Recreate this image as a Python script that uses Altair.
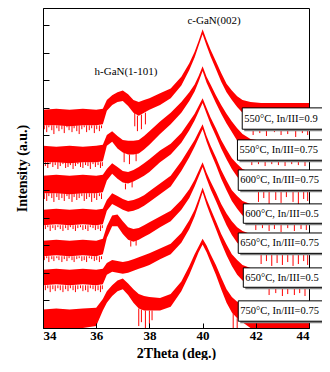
import altair as alt
import pandas as pd

# ---------------- data ----------------
two_theta = [34.0, 34.5, 35.0, 35.5, 36.0, 36.25, 36.4, 36.6, 36.8, 37.0, 37.2, 37.4,
             37.6, 37.8, 38.0, 38.4, 38.8, 39.2, 39.5, 39.7, 39.85, 40.0, 40.15, 40.3,
             40.5, 40.7, 40.9, 41.1, 41.3, 41.5, 41.8, 42.2, 42.6, 43.0, 43.5, 44.0]

samples = ["550°C, In/III=0.9", "550°C, In/III=0.75", "600°C, In/III=0.75",
           "600°C, In/III=0.5", "650°C, In/III=0.75", "650°C, In/III=0.5",
           "750°C, In/III=0.75"]

# upper / lower edge of each noisy trace (a.u., offset traces)
upper_550_09 = [225, 226, 225, 226, 225, 226, 235, 240, 243, 245, 241, 235, 233, 235, 237, 242, 247, 259,
                273, 285, 296, 308, 297, 287, 275, 263, 252, 245, 239, 235, 233, 232, 232, 232, 232, 232]
lower_550_09 = [209, 209, 208, 209, 209, 210, 224, 230, 233, 234, 229, 222, 219, 222, 225, 230, 237, 250,
                266, 279, 291, 303, 291, 280, 267, 254, 243, 235, 228, 222, 216, 213, 212, 212, 212, 212]
upper_550_075 = [188, 187, 188, 187, 188, 189, 199, 203, 198, 194, 193, 193, 194, 198, 203, 213, 222, 233,
                 243, 251, 260, 270, 259, 251, 240, 230, 221, 213, 206, 200, 195, 193, 192, 192, 192, 192]
lower_550_075 = [171, 171, 170, 171, 171, 172, 188, 192, 185, 181, 179, 179, 180, 184, 189, 200, 210, 222,
                 234, 244, 254, 265, 253, 244, 232, 221, 211, 202, 193, 185, 179, 176, 175, 175, 175, 175]
upper_600_075 = [157, 158, 157, 158, 157, 158, 164, 170, 166, 162, 161, 163, 166, 170, 174, 183, 190, 201,
                 213, 221, 229, 237, 227, 217, 206, 194, 184, 175, 169, 164, 161, 160, 160, 160, 160, 160]
lower_600_075 = [139, 139, 138, 139, 139, 140, 152, 159, 154, 150, 149, 151, 154, 157, 161, 171, 179, 191,
                 204, 214, 223, 232, 221, 210, 198, 185, 174, 164, 156, 149, 144, 142, 142, 142, 142, 142]
upper_600_05 = [122, 123, 122, 123, 122, 123, 132, 139, 136, 133, 131, 132, 134, 137, 141, 149, 157, 172,
                185, 194, 202, 210, 198, 188, 176, 163, 152, 142, 136, 131, 128, 127, 127, 127, 127, 127]
lower_600_05 = [106, 107, 106, 107, 106, 107, 121, 128, 125, 122, 120, 121, 123, 126, 130, 138, 146, 162,
                176, 187, 196, 205, 192, 181, 168, 154, 142, 131, 123, 116, 111, 109, 109, 109, 109, 109]
upper_650_075 = [90, 91, 90, 91, 90, 92, 105, 116, 117, 110, 104, 102, 103, 106, 109, 115, 121, 132,
                 143, 153, 162, 171, 160, 151, 140, 128, 118, 110, 104, 100, 97, 96, 96, 96, 96, 96]
lower_650_075 = [74, 75, 74, 75, 74, 76, 93, 105, 105, 97, 91, 89, 91, 94, 97, 104, 110, 122,
                 134, 146, 156, 166, 154, 143, 131, 118, 106, 96, 88, 83, 79, 77, 77, 77, 77, 77]
upper_650_05 = [60, 61, 60, 61, 60, 61, 67, 70, 69, 68, 69, 71, 73, 75, 77, 82, 87, 98,
                111, 122, 133, 145, 133, 123, 110, 97, 86, 76, 70, 65, 62, 61, 61, 61, 61, 61]
lower_650_05 = [44, 45, 44, 45, 44, 45, 55, 58, 57, 56, 57, 59, 61, 63, 65, 71, 76, 88,
                102, 115, 127, 140, 127, 116, 102, 88, 75, 64, 55, 49, 45, 43, 43, 43, 43, 43]
upper_750_075 = [19, 20, 19, 20, 21, 30, 38, 44, 49, 51, 46, 40, 35, 33, 32, 31, 35, 48,
                 64, 76, 84, 92, 85, 76, 65, 52, 40, 32, 27, 25, 24, 24, 24, 24, 24, 24]
lower_750_075 = [0, 0, 0, 0, 2, 18, 26, 33, 38, 40, 34, 26, 20, 18, 18, 18, 22, 38,
                 55, 68, 78, 86, 78, 68, 55, 40, 26, 16, 10, 6, 0, 0, 0, 0, 0, 0]

uppers = [upper_550_09, upper_550_075, upper_600_075, upper_600_05, upper_650_075, upper_650_05, upper_750_075]
lowers = [lower_550_09, lower_550_075, lower_600_075, lower_600_05, lower_650_075, lower_650_05, lower_750_075]

# downward noise spikes at low angle: positions (2theta) and spike bottoms (a.u.)
noise_x_a = [34.05, 34.14, 34.22, 34.33, 34.41, 34.52, 34.6, 34.71, 34.8, 34.9, 34.98, 35.09,
             35.17, 35.27, 35.36, 35.46, 35.55, 35.64, 35.74, 35.83, 35.93, 36.02, 36.12, 36.2]
noise_x_b = [34.09, 34.18, 34.27, 34.37, 34.46, 34.56, 34.65, 34.75, 34.85, 34.94, 35.03, 35.13,
             35.22, 35.31, 35.41, 35.5, 35.6, 35.69, 35.78, 35.88, 35.97, 36.07, 36.16, 36.23]
noise_x = [noise_x_a, noise_x_b, noise_x_a, noise_x_b, noise_x_a, noise_x_b, []]
noise_bottom = [
    [205, 202, 207, 204, 200, 206, 203, 205, 201, 207, 204, 202, 206, 203, 200, 205, 207, 202, 204, 206, 201, 205, 203, 206],
    [167, 165, 169, 166, 168, 164, 167, 169, 165, 166, 168, 164, 167, 169, 166, 165, 168, 167, 164, 169, 166, 168, 165, 167],
    [133, 131, 136, 134, 130, 135, 132, 134, 131, 136, 133, 130, 135, 132, 134, 136, 131, 133, 135, 130, 134, 132, 136, 133],
    [102, 104, 100, 103, 101, 104, 102, 100, 103, 101, 104, 102, 100, 103, 104, 101, 102, 100, 104, 103, 101, 102, 100, 103],
    [70, 72, 68, 71, 69, 72, 70, 68, 71, 69, 72, 70, 68, 71, 72, 69, 70, 68, 72, 71, 69, 70, 68, 71],
    [39, 41, 37, 40, 38, 41, 39, 37, 40, 38, 41, 39, 37, 40, 41, 38, 39, 37, 41, 40, 38, 39, 37, 40],
    [],
]
# spikes at high angle (2theta, bottom a.u.)
tail_spike_x = [
    [41.9, 42.15, 42.4, 42.7, 42.95, 43.2, 43.5, 43.75, 43.95],
    [41.85, 42.1, 42.35, 42.6, 42.85, 43.1, 43.35, 43.6, 43.85],
    [42.1, 42.3, 42.5, 42.75, 42.95, 43.15, 43.4, 43.6, 43.8, 43.95],
    [42.0, 42.25, 42.5, 42.7, 42.95, 43.2, 43.45, 43.7, 43.9],
    [42.2, 42.4, 42.6, 42.8, 43.0, 43.2, 43.4, 43.6, 43.8, 43.95],
    [42.5, 42.75, 43.0, 43.2, 43.45, 43.65, 43.85],
    [],
]
tail_spike_bottom = [
    [199, 201, 198, 202, 199, 200, 197, 201, 199],
    [168, 169, 167, 169, 168, 167, 169, 168, 167],
    [130, 134, 128, 132, 129, 135, 130, 127, 133, 131],
    [101, 103, 100, 102, 99, 103, 100, 102, 101],
    [66, 69, 64, 67, 65, 68, 64, 66, 69, 65],
    [34, 36, 33, 35, 34, 36, 33],
    [],
]
# other spikes (2theta, top a.u., bottom a.u.)
other_spikes = [
    [(37.45, 222, 208), (37.55, 219, 203), (37.7, 220, 205), (37.85, 222, 210)],
    [(37.05, 181, 171), (37.25, 179, 169), (37.5, 180, 172)],
    [(37.1, 149, 143), (37.35, 151, 145)],
    [],
    [(37.3, 90, 84), (37.5, 91, 85)],
    [],
    [(37.6, 20, 2), (37.7, 19, 6), (37.85, 18, 0), (38.0, 18, 4), (38.1, 18, 8), (41.15, 16, 0), (41.3, 10, 0)],
]

# label boxes (left edge 2theta, top a.u., bottom a.u.)
box_x0 = [41.49, 41.31, 41.34, 41.53, 41.34, 41.53, 41.34]
box_x1 = [45.3] * 7
box_top = [227, 194, 163, 128, 98, 62, 28]
box_bottom = [205, 173, 142, 108, 77, 42, 7]

peak_names = ["c-GaN(002)", "h-GaN(1-101)"]
peak_x = [40.43, 37.12]
peak_y = [317, 264]

x_ticks = [34, 36, 38, 40, 42, 44]
y_ticks = [28.4, 56.8, 85.2, 113.6, 142.0, 170.4, 198.8, 227.2, 255.6, 284.0, 312.4]

# ---------------- tables ----------------
rows = []
for s, up, lo in zip(samples, uppers, lowers):
    for t, u, l in zip(two_theta, up, lo):
        rows.append({"sample": s, "two_theta": t, "upper": u, "lower": l})
traces = pd.DataFrame(rows)

srows = []
for k, s in enumerate(samples):
    for t, b in zip(noise_x[k], noise_bottom[k]):
        srows.append({"sample": s, "two_theta": t, "top": lowers[k][0], "bottom": b})
    for t, b in zip(tail_spike_x[k], tail_spike_bottom[k]):
        srows.append({"sample": s, "two_theta": t, "top": lowers[k][-1], "bottom": b})
    for t, tp, b in other_spikes[k]:
        srows.append({"sample": s, "two_theta": t, "top": tp, "bottom": b})
spikes = pd.DataFrame(srows)

boxes = pd.DataFrame({"label": samples, "x0": box_x0, "x1": box_x1,
                      "top": box_top, "bottom": box_bottom})
boxes["mid"] = (boxes["top"] + boxes["bottom"]) / 2
peaks = pd.DataFrame({"name": peak_names, "x": peak_x, "y": peak_y})

SERIF = "Liberation Serif"
W, H = 266, 320
xs = alt.Scale(domain=[34, 44], nice=False, zero=False)
ys = alt.Scale(domain=[0, 330], nice=False, zero=False)

area = alt.Chart(traces).mark_area(color="#ff0000", clip=True).encode(
    x=alt.X("two_theta:Q", scale=xs,
            axis=alt.Axis(orient="bottom", values=x_ticks, ticks=False, grid=False,
                          domain=True, domainColor="black", domainWidth=1, zindex=1,
                          labelFont=SERIF, labelFontSize=13, labelFontWeight="bold",
                          labelColor="black", labelPadding=1,
                          title="2Theta (deg.)", titleFont=SERIF, titleFontSize=14,
                          titleFontWeight="bold", titleColor="black",
                          titleY=29, titleBaseline="alphabetic")),
    y=alt.Y("upper:Q", scale=ys,
            axis=alt.Axis(orient="left", labels=False, ticks=False, grid=False,
                          domain=True, domainColor="black", domainWidth=1, zindex=1,
                          title="Intensity (a.u.)", titleFont=SERIF, titleFontSize=14,
                          titleFontWeight="bold", titleColor="black", titlePadding=14)),
    y2="lower:Q",
    detail="sample:N",
)

spike = alt.Chart(spikes).mark_rule(color="#ff0000", strokeWidth=1, clip=True).encode(
    x=alt.X("two_theta:Q", scale=xs,
            axis=alt.Axis(orient="top", offset=-H, values=x_ticks, labels=False,
                          domain=False, grid=False, tickSize=5, tickColor="black",
                          tickWidth=1, zindex=1, title=None)),
    y=alt.Y("top:Q", scale=ys,
            axis=alt.Axis(orient="right", offset=-W, values=y_ticks, labels=False,
                          domain=False, grid=False, tickSize=6, tickColor="black",
                          tickWidth=1, zindex=1, title=None)),
    y2="bottom:Q",
)

shadow = alt.Chart(boxes).mark_rect(color="#808080", xOffset=2, x2Offset=2,
                                     yOffset=2, y2Offset=2, clip=False).encode(
    x=alt.X("x0:Q", scale=xs, axis=None), x2="x1:Q",
    y=alt.Y("top:Q", scale=ys, axis=None), y2="bottom:Q",
)
box = alt.Chart(boxes).mark_rect(fill="white", stroke="black", strokeWidth=1, clip=False).encode(
    x=alt.X("x0:Q", scale=xs, axis=None), x2="x1:Q",
    y=alt.Y("top:Q", scale=ys, axis=None), y2="bottom:Q",
)
box_text = alt.Chart(boxes).mark_text(align="left", baseline="middle", dx=2, font=SERIF,
                                       fontSize=10.5, color="black").encode(
    x=alt.X("x0:Q", scale=xs, axis=None),
    y=alt.Y("mid:Q", scale=ys, axis=None),
    text="label:N",
)
peak_text = alt.Chart(peaks).mark_text(align="center", baseline="middle", font=SERIF,
                                        fontSize=11, color="black").encode(
    x=alt.X("x:Q", scale=xs, axis=None),
    y=alt.Y("y:Q", scale=ys, axis=None),
    text="name:N",
)

chart = alt.layer(area, spike, shadow, box, box_text, peak_text).resolve_axis(
    x="independent", y="independent"
).properties(
    width=W, height=H,
    padding={"left": 35, "top": 0, "right": 13, "bottom": 32},
    autosize=alt.AutoSizeParams(type="none"),
).configure_view(stroke="black", strokeWidth=1)

chart.save("out.html", embed_options={"renderer": "svg", "actions": False})
